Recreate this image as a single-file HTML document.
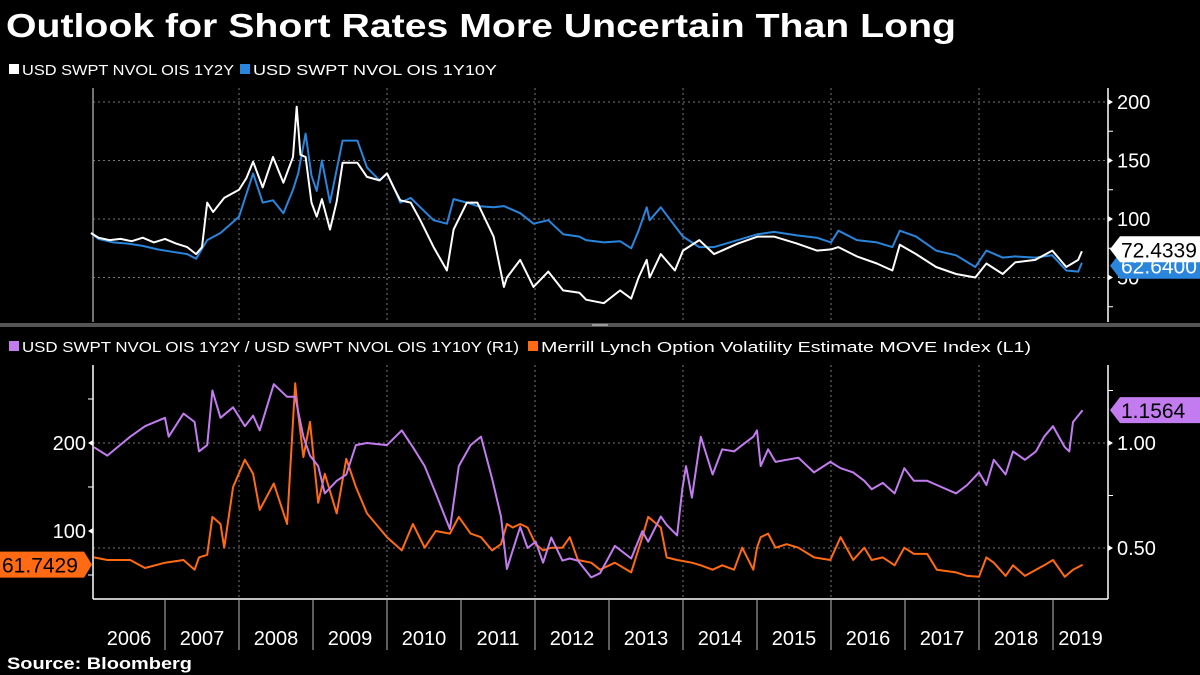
<!DOCTYPE html>
<html><head><meta charset="utf-8"><style>
html,body{margin:0;padding:0;background:#000;}
svg{display:block;font-family:"Liberation Sans",sans-serif;}
</style></head><body>
<svg id="chart" width="1200" height="675" viewBox="0 0 1200 675" xmlns="http://www.w3.org/2000/svg">
<rect width="1200" height="675" fill="#000"/>
<text x="6" y="37" fill="#fff" font-size="33" font-weight="bold" textLength="950" lengthAdjust="spacingAndGlyphs">Outlook for Short Rates More Uncertain Than Long</text>
<g>
<rect x="9" y="64" width="10" height="10" fill="#fff"/>
<text x="22" y="75" fill="#fff" font-size="15" textLength="212" lengthAdjust="spacingAndGlyphs">USD SWPT NVOL OIS 1Y2Y</text>
<rect x="240" y="64" width="10" height="10" fill="#2a85dc"/>
<text x="253" y="75" fill="#fff" font-size="15" textLength="244" lengthAdjust="spacingAndGlyphs">USD SWPT NVOL OIS 1Y10Y</text>
</g>
<g>
<rect x="9" y="341" width="10" height="10" fill="#c27cf0"/>
<text x="22" y="352" fill="#fff" font-size="15" textLength="497" lengthAdjust="spacingAndGlyphs">USD SWPT NVOL OIS 1Y2Y / USD SWPT NVOL OIS 1Y10Y (R1)</text>
<rect x="528" y="341" width="10" height="10" fill="#ff6a13"/>
<text x="541" y="352" fill="#fff" font-size="15" textLength="490" lengthAdjust="spacingAndGlyphs">Merrill Lynch Option Volatility Estimate MOVE Index  (L1)</text>
</g>
<rect x="0" y="323" width="1200" height="4" fill="#555"/>
<rect x="592" y="324" width="16" height="2" fill="#999"/>
<g id="grid"></g>
<g id="axes"></g>
<g id="series"></g>
<g id="tags"></g>
<text x="7" y="669" fill="#fff" font-size="17" font-weight="bold" textLength="185" lengthAdjust="spacingAndGlyphs">Source:  Bloomberg</text>
</svg>
<script>
const years = [2006,2007,2008,2009,2010,2011,2012,2013,2014,2015,2016,2017,2018,2019];
const topTicks = [50,100,150,200];
const leftTicks = [100,200];
const rightTicks = [0.5,1.0];
const rightTickLabels = ["0.50","1.00"];

const whiteDates = [2006.0,2006.1,2006.25,2006.4,2006.55,2006.7,2006.85,2007.0,2007.15,2007.3,2007.42,2007.5,2007.57,2007.65,2007.8,2008.0,2008.1,2008.19,2008.32,2008.46,2008.6,2008.73,2008.78,2008.83,2008.9,2008.98,2009.05,2009.12,2009.23,2009.32,2009.4,2009.6,2009.73,2009.9,2010.0,2010.09,2010.18,2010.32,2010.45,2010.63,2010.81,2010.9,2011.08,2011.22,2011.44,2011.58,2011.62,2011.8,2011.98,2012.18,2012.38,2012.6,2012.69,2012.93,2013.15,2013.3,2013.4,2013.51,2013.55,2013.7,2013.89,2014.0,2014.22,2014.42,2014.74,2015.01,2015.23,2015.54,2015.81,2016.0,2016.1,2016.35,2016.62,2016.83,2016.93,2017.15,2017.42,2017.69,2017.95,2018.1,2018.32,2018.49,2018.76,2018.99,2019.18,2019.34,2019.39];
const whiteValues = [88,84,82,83,81,84,80,83,79,76,70,76,114,106,118,125,135,149,127,153,131,153,196,155,153,114,102,117,91,115,148,148,136,133,139,127,116,114,99,76,56,91,114,114,85,42,50,65,42,55,39,37,31,28,39,32,50,65,50,70,56,73,82,70,79,85,85,79,73,74,76,68,62,56,78,70,59,53,50,62,53,63,65,73,59,65,72.43];

const blueDates = [2006.0,2006.1,2006.3,2006.5,2006.7,2006.9,2007.1,2007.3,2007.42,2007.57,2007.75,2008.0,2008.19,2008.32,2008.46,2008.6,2008.73,2008.8,2008.9,2008.98,2009.05,2009.12,2009.23,2009.4,2009.6,2009.73,2009.9,2010.0,2010.09,2010.18,2010.32,2010.45,2010.63,2010.81,2010.9,2011.08,2011.22,2011.44,2011.58,2011.8,2011.98,2012.18,2012.38,2012.6,2012.69,2012.93,2013.15,2013.3,2013.4,2013.51,2013.55,2013.7,2013.89,2014.0,2014.22,2014.42,2014.74,2015.01,2015.23,2015.54,2015.81,2016.0,2016.1,2016.35,2016.62,2016.83,2016.93,2017.15,2017.42,2017.69,2017.95,2018.1,2018.32,2018.49,2018.76,2018.99,2019.18,2019.34,2019.39];
const blueValues = [88,83,80,79,77,74,72,70,66,82,88,102,139,114,116,105,125,139,173,137,124,150,114,167,167,144,133,139,127,114,118,110,99,96,117,114,111,110,111,105,96,99,87,85,82,80,81,75,90,110,99,110,94,85,76,76,82,87,89,86,84,80,90,82,80,76,90,85,73,69,59,73,67,68,67,69,56,55,62.64];

const ratioDates = [2006.04,2006.22,2006.53,2006.73,2007.0,2007.05,2007.25,2007.4,2007.46,2007.57,2007.64,2007.75,2007.92,2008.08,2008.19,2008.28,2008.47,2008.65,2008.76,2008.87,2008.96,2009.07,2009.16,2009.32,2009.45,2009.58,2009.73,2010.0,2010.2,2010.35,2010.51,2010.66,2010.85,2010.97,2011.13,2011.27,2011.42,2011.54,2011.62,2011.7,2011.8,2011.9,2012.01,2012.11,2012.22,2012.37,2012.47,2012.58,2012.76,2012.88,2013.08,2013.3,2013.45,2013.53,2013.7,2013.78,2013.92,2013.99,2014.04,2014.12,2014.24,2014.4,2014.53,2014.69,2014.8,2014.95,2015.0,2015.05,2015.15,2015.25,2015.4,2015.56,2015.77,2015.99,2016.13,2016.3,2016.45,2016.55,2016.7,2016.86,2016.99,2017.12,2017.3,2017.43,2017.69,2017.84,2018.0,2018.1,2018.2,2018.36,2018.46,2018.62,2018.77,2018.88,2019.0,2019.16,2019.22,2019.27,2019.4];
const ratioValues = [0.98,0.94,1.03,1.08,1.12,1.03,1.14,1.10,0.96,0.99,1.25,1.12,1.17,1.08,1.13,1.06,1.28,1.22,1.22,1.03,0.94,0.89,0.76,0.82,0.85,0.99,1.0,0.99,1.06,0.98,0.89,0.76,0.59,0.89,0.99,1.03,0.83,0.65,0.40,0.49,0.60,0.50,0.53,0.43,0.55,0.44,0.45,0.44,0.36,0.38,0.51,0.45,0.58,0.53,0.65,0.61,0.56,0.78,0.89,0.74,1.03,0.85,0.97,0.96,0.99,1.03,1.06,0.89,0.97,0.91,0.92,0.93,0.86,0.91,0.88,0.86,0.82,0.78,0.81,0.76,0.88,0.82,0.82,0.80,0.76,0.80,0.86,0.80,0.92,0.85,0.96,0.92,0.96,1.03,1.08,0.98,0.96,1.10,1.1564];

const moveDates = [2006.04,2006.22,2006.53,2006.73,2007.0,2007.25,2007.4,2007.46,2007.57,2007.64,2007.75,2007.8,2007.92,2008.08,2008.19,2008.28,2008.47,2008.65,2008.76,2008.8,2008.87,2008.96,2009.07,2009.16,2009.32,2009.45,2009.58,2009.73,2010.0,2010.2,2010.35,2010.51,2010.66,2010.85,2010.97,2011.13,2011.27,2011.42,2011.54,2011.62,2011.7,2011.8,2011.9,2012.01,2012.11,2012.22,2012.37,2012.47,2012.58,2012.76,2012.88,2013.08,2013.3,2013.45,2013.53,2013.7,2013.78,2013.92,2014.12,2014.24,2014.4,2014.53,2014.69,2014.8,2014.95,2015.0,2015.05,2015.15,2015.25,2015.4,2015.56,2015.77,2015.99,2016.13,2016.3,2016.45,2016.55,2016.7,2016.86,2016.99,2017.12,2017.3,2017.43,2017.69,2017.84,2018.0,2018.1,2018.2,2018.36,2018.46,2018.62,2018.77,2018.88,2019.0,2019.16,2019.27,2019.4];
const moveValues = [70,67,67,58,64,67,56,70,73,116,108,81,150,181,165,124,154,108,268,233,184,224,132,165,120,182,150,120,93,78,108,81,100,97,116,97,93,78,85,108,104,108,104,85,78,81,81,93,67,64,56,64,53,93,116,104,70,67,64,61,56,61,56,81,56,81,93,97,81,85,81,70,67,93,67,81,67,70,61,81,74,74,56,53,49,48,70,64,49,61,49,56,61,67,48,56,61.74];

const X0 = 93, X1 = 1108;
function xScale(t){ return 165 + (t - 2007) * 74; }
function yTop(v){ return 336 - 1.17 * v; }
function yLeft(v){ return 619 - 0.88 * v; }
function yRight(r){ return 653 - 210 * r; }

const NS = "http://www.w3.org/2000/svg";
function mk(tag, attrs, parent){
  const el = document.createElementNS(NS, tag);
  for (const k in attrs) el.setAttribute(k, attrs[k]);
  parent.appendChild(el);
  return el;
}
const grid = document.getElementById('grid');
const axes = document.getElementById('axes');
const series = document.getElementById('series');
const tags = document.getElementById('tags');

// vertical dotted gridlines every 2 years
years.forEach(function(yr){
  if (yr % 2 === 0 && yr > 2006 && yr < 2019) {
    const x = xScale(yr);
    const g1 = mk('line', {x1:x, x2:x, y1:88, y2:322, stroke:'#777', 'stroke-dasharray':'2,3', 'stroke-width':1}, grid);
    
    
    const g2 = mk('line', {x1:x, x2:x, y1:365, y2:599, stroke:'#777', 'stroke-dasharray':'2,3', 'stroke-width':1}, grid);
    
    
  }
});
// top horizontal gridlines + labels
topTicks.forEach(function(v){
  const y = yTop(v);
  const gl = mk('line', {x1:X0, x2:X1, y1:y, y2:y, stroke:'#777', 'stroke-dasharray':'2,3', 'stroke-width':1}, grid);
  
  
  const tk = mk('path', {d:'M'+X1+' '+(y-3)+' L'+(X1+5)+' '+y+' L'+X1+' '+(y+3)+'Z', fill:'#fff'}, axes);
  
  
  const tx = mk('text', {x:1117, y:y+7, fill:'#fff', 'font-size':20}, axes);
  tx.textContent = String(v);
  
  
});
[25,75,125,175].forEach(function(v){
  const y = yTop(v);
  const m = mk('line', {x1:X1, x2:X1+5, y1:y, y2:y, stroke:'#fff', 'stroke-width':1}, axes);
  
  
});
// bottom horizontal gridlines (right axis)
rightTicks.forEach(function(r, i){
  const y = yRight(r);
  const gl = mk('line', {x1:X0, x2:X1, y1:y, y2:y, stroke:'#777', 'stroke-dasharray':'2,3', 'stroke-width':1}, grid);
  
  
  const tk = mk('path', {d:'M'+X1+' '+(y-3)+' L'+(X1+5)+' '+y+' L'+X1+' '+(y+3)+'Z', fill:'#fff'}, axes);
  
  
  const tx = mk('text', {x:1117, y:y+7, fill:'#fff', 'font-size':20}, axes);
  tx.textContent = rightTickLabels[i];
  
  
});
[0.75,1.25].forEach(function(r){
  const y = yRight(r);
  const m = mk('line', {x1:X1, x2:X1+5, y1:y, y2:y, stroke:'#fff', 'stroke-width':1}, axes);
  
  
});
leftTicks.forEach(function(v){
  const y = yLeft(v);
  const tk = mk('path', {d:'M'+X0+' '+(y-3)+' L'+(X0-5)+' '+y+' L'+X0+' '+(y+3)+'Z', fill:'#fff'}, axes);
  
  
  const tx = mk('text', {x:86, y:y+7, fill:'#fff', 'font-size':20, 'text-anchor':'end'}, axes);
  tx.textContent = String(v);
  
  
});
[50,150,250].forEach(function(v){
  const y = yLeft(v);
  const m = mk('line', {x1:X0-5, x2:X0, y1:y, y2:y, stroke:'#fff', 'stroke-width':1}, axes);
  
  
});
// axis lines
[[X0,88,X0,322,'#999'],[X1,88,X1,322,'#fff'],[X0,365,X0,599,'#fff'],[X1,365,X1,599,'#fff'],[X0,599,X1,599,'#fff']].forEach(function(a, i){
  const l = mk('line', {x1:a[0], y1:a[1], x2:a[2], y2:a[3], stroke:a[4], 'stroke-width':1.5}, axes);
  
  
});
// x-axis year ticks and labels
years.forEach(function(yr){
  if (yr > 2006) {
    const x = xScale(yr);
    const l = mk('line', {x1:x, x2:x, y1:599, y2:650, stroke:'#bbb', 'stroke-width':1}, axes);
    
    
  }
  const start = Math.max(X0, xScale(yr));
  const end = Math.min(X1, xScale(yr + 1));
  const tx = mk('text', {x:(start + end) / 2, y:645, fill:'#fff', 'font-size':20, 'text-anchor':'middle'}, axes);
  tx.textContent = String(yr);
  
  
});
function line(dates, vals, ys, color, name){
  let d = '';
  for (let i = 0; i < dates.length; i++) {
    d += (i ? 'L' : 'M') + xScale(dates[i]).toFixed(1) + ' ' + ys(vals[i]).toFixed(1);
  }
  const p = mk('path', {d:d, fill:'none', stroke:color, 'stroke-width':2, 'stroke-linejoin':'round'}, series);
  
  
}
line(blueDates, blueValues, yTop, '#2a85dc', 'line-1y10y');
line(whiteDates, whiteValues, yTop, '#ffffff', 'line-1y2y');
line(moveDates, moveValues, yLeft, '#ff6a13', 'line-move-index');
line(ratioDates, ratioValues, yRight, '#c27cf0', 'line-ratio');

function tagRight(y, fill, txtColor, text, name){
  const g = mk('g', {}, tags);
  
  
  mk('path', {d:'M1110 '+y+' L1120 '+(y-13)+' L1200 '+(y-13)+' L1200 '+(y+13)+' L1120 '+(y+13)+'Z', fill:fill}, g);
  const t = mk('text', {x:1121, y:y+8, fill:txtColor, 'font-size':21}, g);
  t.textContent = text;
}
tagRight(yTop(blueValues[blueValues.length-1]) + 3, '#2a85dc', '#fff', '62.6400', 'tag-1y10y-last');
tagRight(yTop(whiteValues[whiteValues.length-1]) - 2, '#ffffff', '#000', '72.4339', 'tag-1y2y-last');
tagRight(yRight(ratioValues[ratioValues.length-1]), '#c27cf0', '#000', '1.1564', 'tag-ratio-last');
(function(){
  const y = yLeft(moveValues[moveValues.length-1]);
  const g = mk('g', {}, tags);
  
  
  mk('path', {d:'M0 '+(y-13)+' L84 '+(y-13)+' L92 '+y+' L84 '+(y+13)+' L0 '+(y+13)+'Z', fill:'#ff6a13'}, g);
  const t = mk('text', {x:2, y:y+8, fill:'#000', 'font-size':21}, g);
  t.textContent = '61.7429';
})();
</script>
</body></html>
